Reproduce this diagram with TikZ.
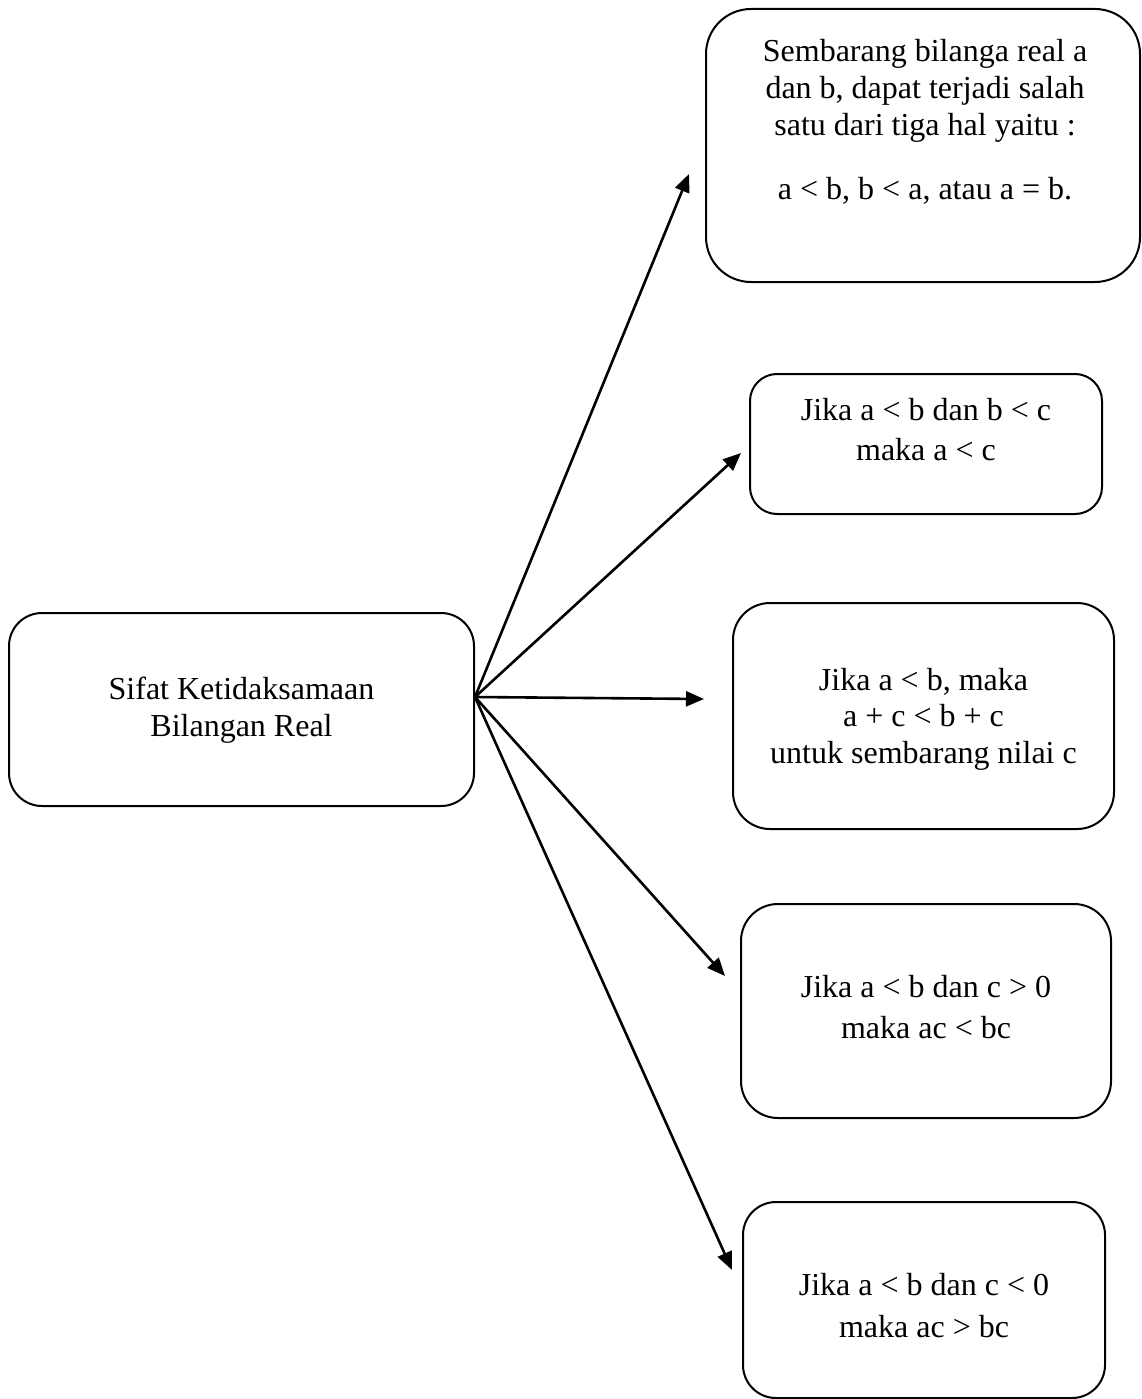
\documentclass[tikz,border=0pt]{standalone}
\usepackage{fontspec}
\setmainfont{Liberation Serif}
\usetikzlibrary{arrows.meta}
\begin{document}
\begin{tikzpicture}[x=1pt,y=-1pt,
  box/.style={draw=black, line width=2pt, inner sep=0pt},
  line/.style={inner sep=0pt, anchor=base, font=\fontsize{32}{38}\selectfont},
  link/.style={line width=2.6pt, -{Triangle[length=18pt,width=15pt]}}]
\useasboundingbox (0,0) rectangle (1141,1399);

% boxes
\node[box, minimum width=465pt, minimum height=193pt, rounded corners=33pt] (main) at (241.5,709.5) {};
\node[box, minimum width=434pt, minimum height=273pt, rounded corners=45pt] (b1) at (923,145.5) {};
\node[box, minimum width=352pt, minimum height=140pt, rounded corners=27pt] (b2) at (926,444) {};
\node[box, minimum width=381pt, minimum height=226pt, rounded corners=37pt] (b3) at (923.5,716) {};
\node[box, minimum width=370pt, minimum height=214pt, rounded corners=37pt] (b4) at (926,1011) {};
\node[box, minimum width=362pt, minimum height=196pt, rounded corners=33pt] (b5) at (924,1300) {};

% texts
\node[line] (m1) at (241.5,699) {Sifat Ketidaksamaan};
\node[line] (m2) at (241.5,736) {Bilangan Real};

\node[line] (a1) at (925,62) {Sembarang bilanga real a};
\node[line] (a2) at (925,99) {dan b, dapat terjadi salah};
\node[line] (a3) at (925,136) {satu dari tiga hal yaitu :};
\node[line] (a4) at (925,200) {a < b, b < a, atau a = b.};

\node[line] (c1) at (926,420) {Jika a < b dan b < c};
\node[line] (c2) at (926,460) {maka a < c};

\node[line] (d1) at (923.5,690) {Jika a < b, maka};
\node[line] (d2) at (923.5,726) {a + c < b + c};
\node[line] (d3) at (923.5,763) {untuk sembarang nilai c};

\node[line] (e1) at (926,997) {Jika a < b dan c > 0};
\node[line] (e2) at (926,1038) {maka ac < bc};

\node[line] (f1) at (924,1295) {Jika a < b dan c < 0};
\node[line] (f2) at (924,1337) {maka ac > bc};

% arrow tips
\coordinate (t1) at (689,174);
\coordinate (t2) at (741,453);
\coordinate (t3) at (704,699);
\coordinate (t4) at (725,976);
\coordinate (t5) at (732,1270);

% connectors
\foreach \t in {t1,t2,t3,t4,t5}
  \draw[link] ([yshift=12.5pt]main.east) -- (\t);
\end{tikzpicture}
\end{document}
